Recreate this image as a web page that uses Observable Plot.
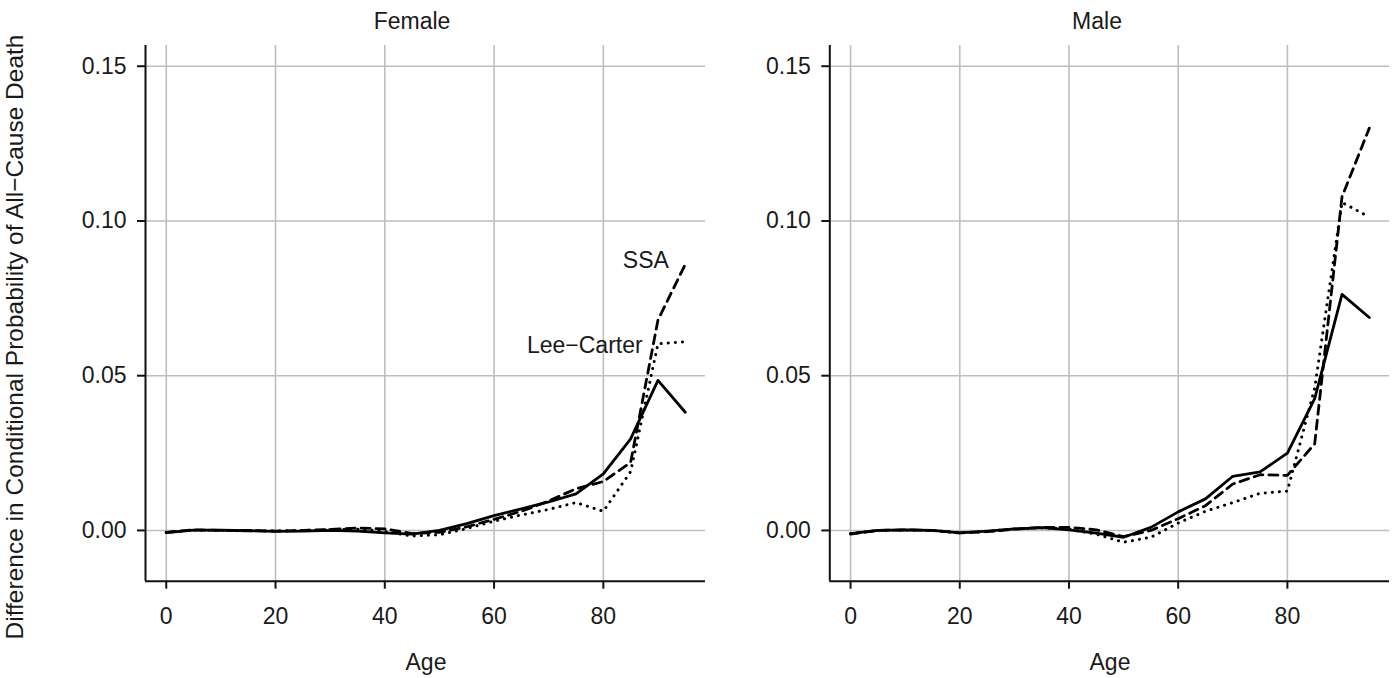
<!DOCTYPE html>
<html>
<head>
<meta charset="utf-8">
<script src="https://cdn.jsdelivr.net/npm/d3@7"></script>
<script src="https://cdn.jsdelivr.net/npm/@observablehq/plot@0.6"></script>
<style>
  html, body { margin: 0; padding: 0; background: #fff; }
  #root { position: relative; width: 1397px; height: 678px; overflow: hidden; font-family: "Liberation Sans", Arial, sans-serif; color: #1a1a1a; }
  .panel { position: absolute; top: 0; }
  .lab { position: absolute; font-size: 23px; white-space: nowrap; transform: translate(-50%, -50%); line-height: 1; }
  .ylab { transform: translate(-50%, -50%) rotate(-90deg); font-size: 24.5px; }
  svg text { fill: #1a1a1a; }
  [aria-label^="x-axis"] line, [aria-label^="x-axis"] path,
  [aria-label^="y-axis"] line, [aria-label^="y-axis"] path { stroke-width: 2; }
</style>
</head>
<body>
<div id="root"></div>
<script>
// ---- data ----
const ages = [0,5,10,15,20,25,30,35,40,45,50,55,60,65,70,75,80,85,90,95];

const femaleSolid = [-0.0007,0.0001,0.0001,-0.0001,-0.0003,-0.0002,0.0000,-0.0002,-0.0008,-0.0012,0.0000,0.0022,0.0048,0.0070,0.0092,0.0118,0.0183,0.0296,0.0485,0.0382];
const femaleSSA   = [-0.0006,0.0002,0.0000,0.0000,-0.0002,0.0000,0.0003,0.0008,0.0005,-0.0010,-0.0006,0.0012,0.0036,0.0062,0.0095,0.0135,0.0158,0.0220,0.0680,0.0860];
const femaleLC    = [-0.0006,0.0001,0.0000,-0.0001,-0.0002,0.0000,0.0002,0.0004,-0.0003,-0.0018,-0.0014,0.0006,0.0030,0.0050,0.0068,0.0090,0.0062,0.0190,0.0603,0.0610];

const maleSolid = [-0.0010,0.0000,0.0002,0.0000,-0.0008,-0.0002,0.0005,0.0009,0.0002,-0.0009,-0.0022,0.0010,0.0060,0.0102,0.0175,0.0189,0.0250,0.0426,0.0763,0.0688];
const maleSSA   = [-0.0012,0.0000,0.0002,0.0000,-0.0008,-0.0004,0.0004,0.0010,0.0010,0.0002,-0.0020,0.0000,0.0038,0.0080,0.0150,0.0180,0.0178,0.0280,0.1078,0.1300];
const maleLC    = [-0.0010,0.0000,0.0001,0.0000,-0.0008,-0.0003,0.0005,0.0008,0.0004,-0.0012,-0.0038,-0.0022,0.0024,0.0062,0.0090,0.0120,0.0127,0.0460,0.1060,0.1013];

const xTicks = [0,20,40,60,80];
const yTicks = [0,0.05,0.10,0.15];
const xDomain = [-3.8, 98.7];
const yDomain = [-0.0164, 0.1567];

const labelTexts  = ["SSA", "Lee\u2212Carter"];
const labelAges   = [92.0, 87.2];
const labelValues = [0.0872, 0.0598];

const panelTitles = ["Female", "Male"];
const xTitle = "Age";
const yTitle = "Difference in Conditional Probability of All\u2212Cause Death";

// ---- drawing ----
function rows(solid, ssa, lc) {
  return ages.map((a, i) => ({age: a, solid: solid[i], ssa: ssa[i], lc: lc[i]}));
}

function panel(data, opts, annotate) {
  const marks = [
    Plot.ruleX(xTicks, {stroke: "#bebebe", strokeWidth: 1.6}),
    Plot.ruleY(yTicks, {stroke: "#bebebe", strokeWidth: 1.6}),
    Plot.ruleX([xDomain[0]], {stroke: "#111", strokeWidth: 2}),
    Plot.ruleY([yDomain[0]], {stroke: "#111", strokeWidth: 2}),
    Plot.line(data, {x: "age", y: "lc", stroke: "#000", strokeWidth: 3, strokeDasharray: "0.1,7", strokeLinecap: "round"}),
    Plot.line(data, {x: "age", y: "ssa", stroke: "#000", strokeWidth: 2.8, strokeDasharray: "9,6"}),
    Plot.line(data, {x: "age", y: "solid", stroke: "#000", strokeWidth: 2.8})
  ];
  if (annotate) {
    const ann = labelTexts.map((t, i) => ({t, age: labelAges[i], v: labelValues[i]}));
    marks.push(Plot.text(ann, {x: "age", y: "v", text: "t", textAnchor: "end", fontSize: 23, fill: "#1a1a1a"}));
  }
  return Plot.plot({
    width: opts.width,
    height: 678,
    marginLeft: opts.marginLeft,
    marginRight: opts.marginRight,
    marginTop: 45,
    marginBottom: 97.3,
    style: {fontSize: "23px", fontFamily: "'Liberation Sans', Arial, sans-serif", background: "transparent", color: "#111"},
    x: {domain: xDomain, ticks: xTicks, tickSize: 8, tickPadding: 18, label: null},
    y: {domain: yDomain, ticks: yTicks, tickFormat: d3.format(".2f"), tickSize: 8, tickPadding: 11, label: null},
    marks
  });
}

const root = document.getElementById("root");

const f = document.createElement("div");
f.className = "panel"; f.style.left = "0px";
f.appendChild(panel(rows(femaleSolid, femaleSSA, femaleLC), {width: 715, marginLeft: 145, marginRight: 10}, true));
root.appendChild(f);

const m = document.createElement("div");
m.className = "panel"; m.style.left = "715px";
m.appendChild(panel(rows(maleSolid, maleSSA, maleLC), {width: 682, marginLeft: 114.3, marginRight: 8}, false));
root.appendChild(m);

function addLabel(text, x, y, cls) {
  const d = document.createElement("div");
  d.className = "lab" + (cls ? " " + cls : "");
  d.style.left = x + "px"; d.style.top = y + "px";
  d.textContent = text;
  root.appendChild(d);
}
addLabel(panelTitles[0], 412, 21);
addLabel(panelTitles[1], 1097, 21);
addLabel(xTitle, 426, 662);
addLabel(xTitle, 1110, 662);
addLabel(yTitle, 15, 337, "ylab");
</script>
</body>
</html>
